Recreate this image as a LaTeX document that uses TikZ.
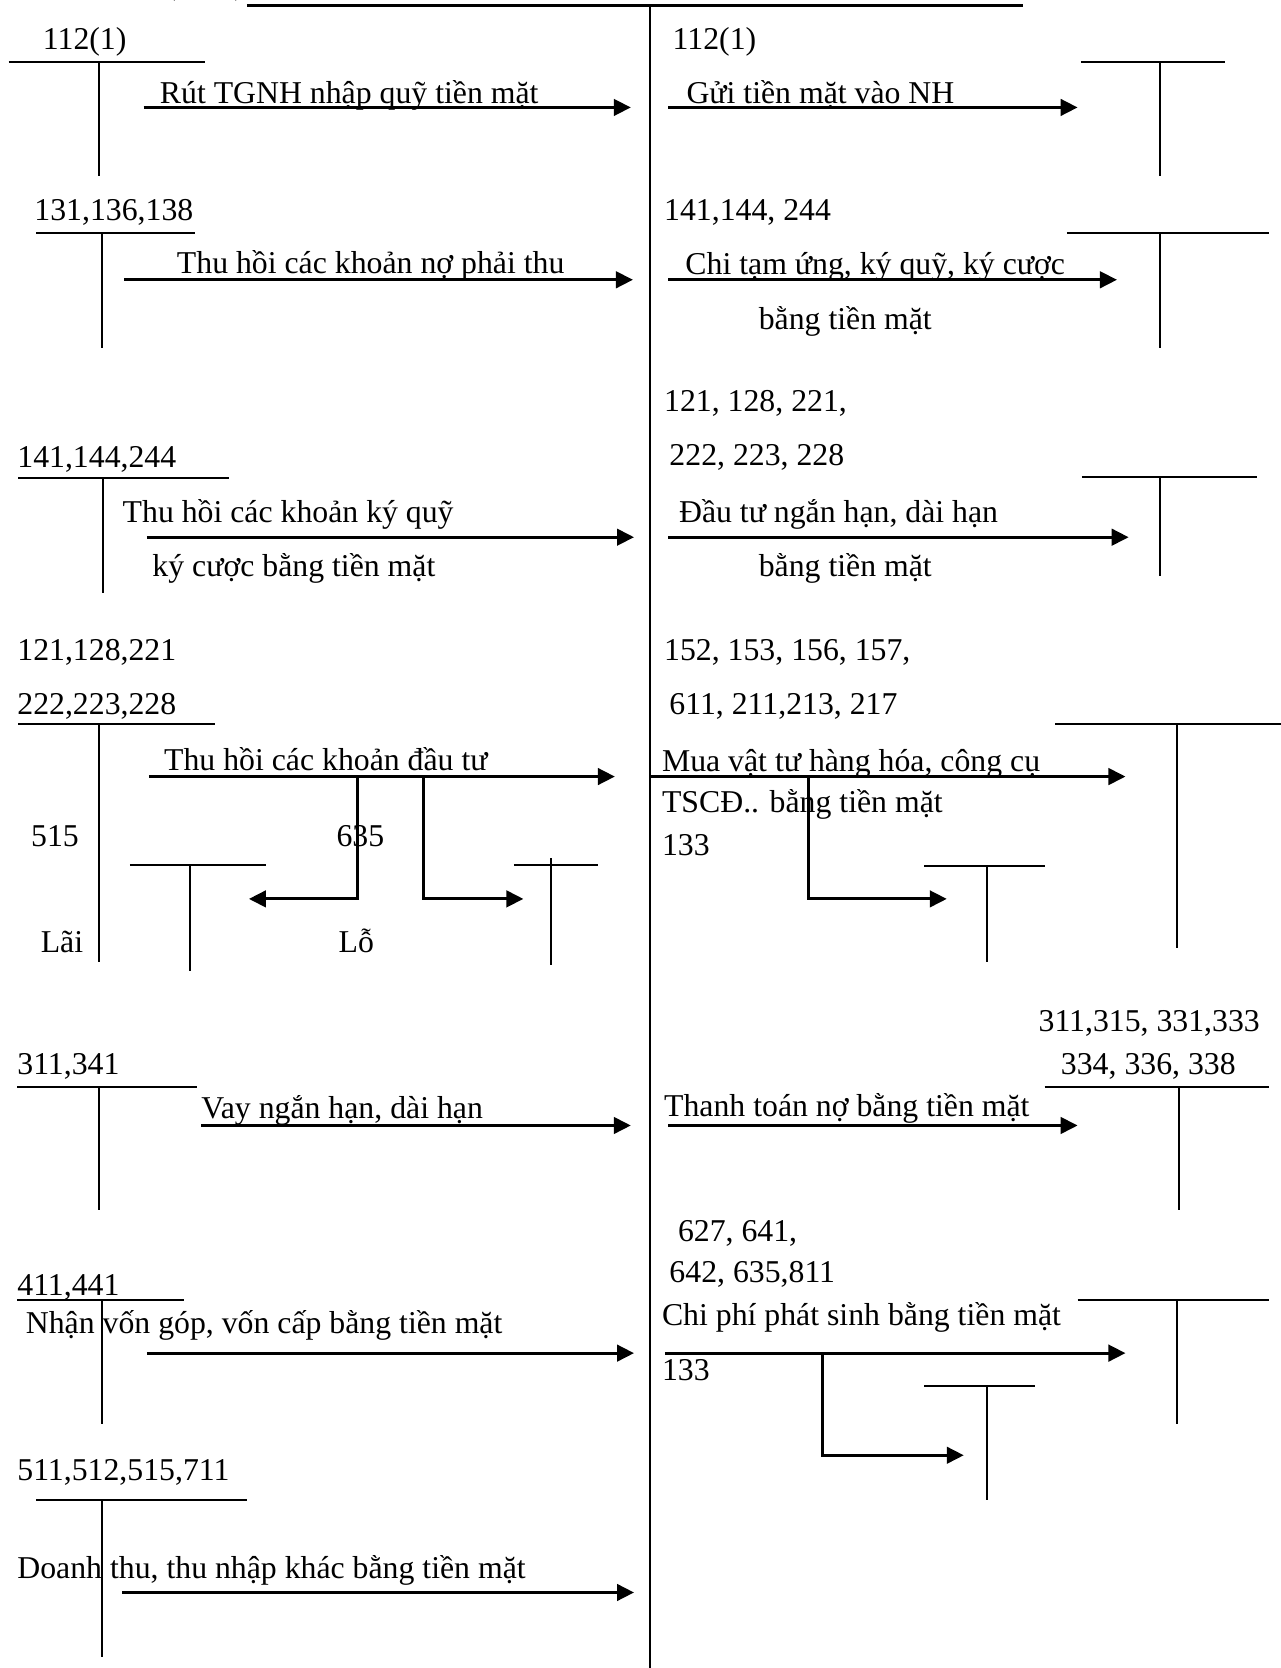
\documentclass[tikz,border=0pt]{standalone}
\usepackage{fontspec}
\setmainfont{Liberation Serif}
\usetikzlibrary{arrows.meta}

\begin{document}
\begin{tikzpicture}[
  x=0.02cm,y=-0.02cm,
  >={Triangle[length=3.2mm,width=3.1mm]},
  tline/.style={line width=1.1pt},
  flow/.style={->,line width=1.6pt},
  acct/.style={anchor=base west,inner sep=0pt,font=\fontsize{17}{20}\selectfont},
  note/.style={acct},
]
\useasboundingbox (0,0) rectangle (1204,1568);

% ============================ frame: divider and title rule ============================
\draw[tline] (611,5) -- (611,1568);
\draw[line width=1.4pt] (232,5) -- (962,5);
\node[acct] (ttl) at (155,-5) {(\hspace{1.1cm})};

% ============================ T-accounts (bar left/right, stem x, top, bottom) ============================
\foreach \xa/\xb/\xv/\yt/\yb in {
  8/193/93/58/165, 34/183/96/219/327, 17/215/97/449/557, 17/202/93/681/904,
  122/250/179/813/913, 16/185/93/1022/1137, 16/173/96/1222/1339, 34/232/96/1410/1558,
  1016/1152/1090/58/165, 1003/1193/1090/219/327, 1017/1182/1090/448/541,
  992/1204/1106/681/891, 869/982/928/814/904, 982/1193/1108/1022/1137,
  1013/1193/1106/1222/1339, 869/973/928/1303/1410}{
  \draw[tline] (\xa,\yt) -- (\xb,\yt) (\xv,\yt) -- (\xv,\yb);}
% 635: stem pokes above its bar
\draw[tline] (483,813) -- (562,813) (518,807) -- (518,907);

% ============================ flows into / out of the cash account ============================
\foreach \n/\xa/\xb/\y in {
  rut/135/593/101, gui/628/1013/101, thn/117/595/263, chi/628/1050/263,
  tkq/138/596/505, dtu/628/1061/505, thd/140/578/730, mua/612/1058/730,
  vay/189/593/1058, ttn/628/1013/1058, nvg/138/596/1272, cps/625/1058/1272,
  dtt/115/596/1497}{
  \coordinate (\n-s) at (\xa,\y);
  \coordinate (\n-e) at (\xb,\y);
  \draw[flow] (\n-s) -- (\n-e);}

% branches off the main flows
\coordinate (lai-s) at (336,730);  \coordinate (lai-e) at (234,845);
\coordinate (lo-s)  at (398,730);  \coordinate (lo-e)  at (492,845);
\coordinate (vat-s) at (760,730);  \coordinate (vat-e) at (890,845);
\coordinate (vcp-s) at (773,1272); \coordinate (vcp-e) at (906,1368);
\draw[flow] (lai-s) |- (lai-e);
\draw[flow] (lo-s) |- (lo-e);
\draw[flow] (vat-s) |- (vat-e);
\draw[flow] (vcp-s) |- (vcp-e);

% ============================ left column labels ============================
\node[acct] (l112) at (40,47) {112(1)};
\node[note] (lrut) at (150,97) {Rút TGNH nhập quỹ tiền mặt};
\node[acct] (l131) at (32,207) {131,136,138};
\node[note] (lthn) at (166,257) {Thu hồi các khoản nợ phải thu};
\node[acct] (l141) at (16,439) {141,144,244};
\node[note] (ltkq) at (115,491) {Thu hồi các khoản ký quỹ};
\node[note] (ltkq2) at (143,542) {ký cược bằng tiền mặt};
\node[acct] (l121) at (16,621) {121,128,221};
\node[acct] (l222) at (16,672) {222,223,228};
\node[note] (lthd) at (154,724) {Thu hồi các khoản đầu tư};
\node[acct] (l515) at (29,796) {515};
\node[acct] (l635) at (316,796) {635};
\node[note] (llai) at (38,895) {Lãi};
\node[note] (llo) at (318,895) {Lỗ};
\node[acct] (l311) at (16,1010) {311,341};
\node[note] (lvay) at (189,1051) {Vay ngắn hạn, dài hạn};
\node[acct] (l411) at (16,1218) {411,441};
\node[note] (lnvg) at (24,1254) {Nhận vốn góp, vốn cấp bằng tiền mặt};
\node[acct] (l511) at (16,1392) {511,512,515,711};
\node[note] (ldtt) at (16,1484) {Doanh thu, thu nhập khác bằng tiền mặt};

% ============================ right column labels ============================
\node[acct] (r112) at (632,47) {112(1)};
\node[note] (rgui) at (645,97) {Gửi tiền mặt vào NH};
\node[acct] (r141) at (624,207) {141,144, 244};
\node[note] (rchi) at (644,258) {Chi tạm ứng, ký quỹ, ký cược};
\node[note] (rchi2) at (713,310) {bằng tiền mặt};
\node[acct] (r121) at (624,387) {121, 128, 221,};
\node[acct] (r222) at (629,438) {222, 223, 228};
\node[note] (rdtu) at (638,491) {Đầu tư ngắn hạn, dài hạn};
\node[note] (rdtu2) at (713,542) {bằng tiền mặt};
\node[acct] (r152) at (624,621) {152, 153, 156, 157,};
\node[acct] (r611) at (629,672) {611, 211,213, 217};
\node[note] (rmua) at (622,725) {Mua vật tư hàng hóa, công cụ};
\node[note] (rmua2) at (622,764) {TSCĐ.. bằng tiền mặt};
\node[acct] (r133a) at (622,804) {133};
\node[acct] (r311) at (976,970) {311,315, 331,333};
\node[acct] (r334) at (997,1010) {334, 336, 338};
\node[note] (rttn) at (624,1050) {Thanh toán nợ bằng tiền mặt};
\node[acct] (r627) at (637,1167) {627, 641,};
\node[acct] (r642) at (629,1206) {642, 635,811};
\node[note] (rcps) at (622,1246) {Chi phí phát sinh bằng tiền mặt};
\node[acct] (r133b) at (622,1298) {133};

\end{tikzpicture}
\end{document}
